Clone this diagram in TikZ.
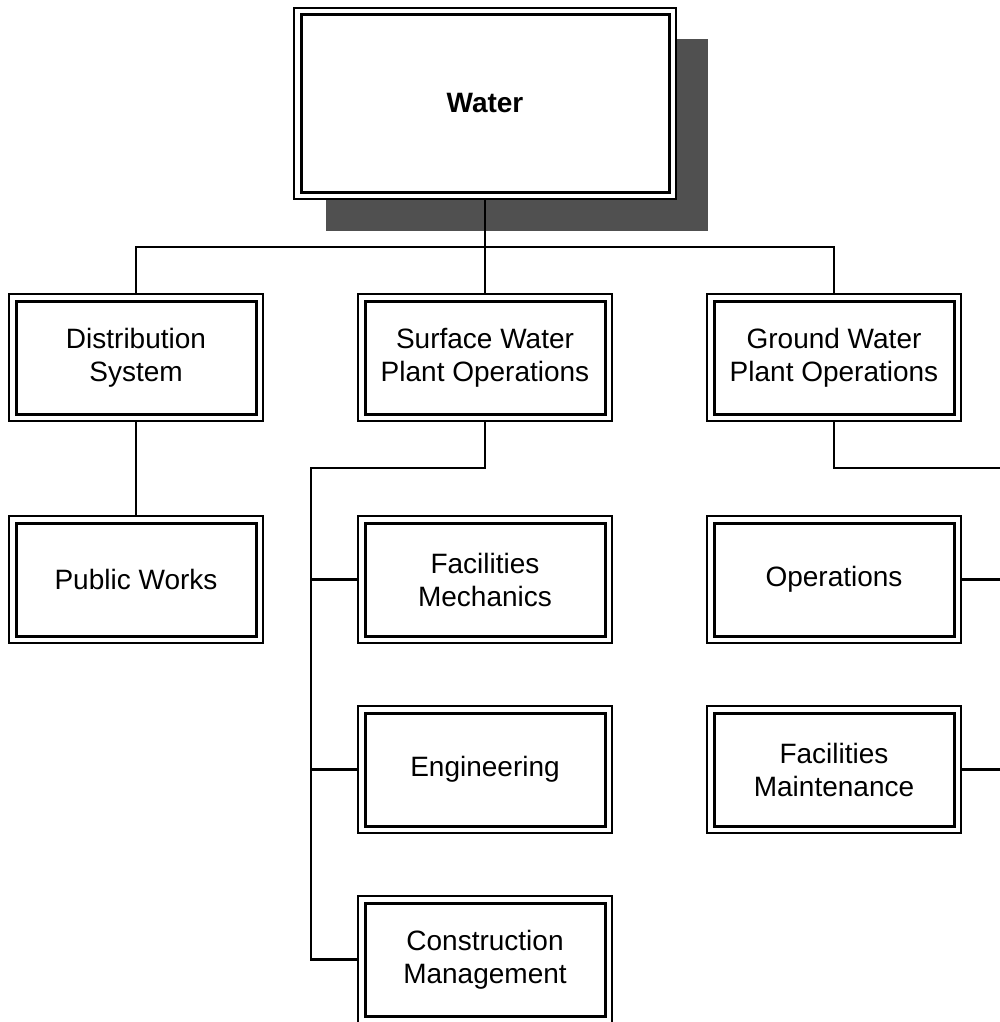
\documentclass[tikz,border=0pt]{standalone}
\usepackage{fontspec}
\setmainfont{Liberation Sans}
\definecolor{shadowgray}{HTML}{505050}
\tikzset{
  unit/.style={draw, line width=1pt, fill=white,
    minimum width=127pt, minimum height=63.5pt, inner sep=0pt, outer sep=0.5pt,
    align=center, font=\fontsize{14}{16.5}\selectfont,
    path picture={\draw[line width=1.5pt]
      ([shift={(3.5pt,-3.5pt)}]path picture bounding box.north west) rectangle
      ([shift={(-3.5pt,3.5pt)}]path picture bounding box.south east);}},
  head/.style={unit, minimum width=191pt, minimum height=95.5pt,
    font=\fontsize{14}{16.5}\selectfont\bfseries},
  link/.style={line width=1.2pt}
}
\begin{document}
\begin{tikzpicture}[x=0.5pt,y=-0.5pt]
\useasboundingbox (0,0) rectangle (1000,1022);
\fill[shadowgray] (326,39) rectangle (708,231);

\node[head] (water) at (485,103.5) {Water};
\node[unit] (dist) at (136,357.5) {Distribution\\System};
\node[unit] (surf) at (485,357.5) {Surface Water\\Plant Operations};
\node[unit] (ground) at (834,357.5) {Ground Water\\Plant Operations};
\node[unit] (works) at (136,579.5) {Public Works};
\node[unit] (mech) at (485,579.5) {Facilities\\Mechanics};
\node[unit] (eng) at (485,769.5) {Engineering};
\node[unit] (constr) at (485,959.5) {Construction\\Management};
\node[unit] (ops) at (834,579.5) {Operations};
\node[unit] (maint) at (834,769.5) {Facilities\\Maintenance};

\coordinate (topbus) at (485,247);
\coordinate (surfbus) at (311,468);
\coordinate (groundbus) at (1000,468);

\draw[link] (water.south)--(surf.north);
\draw[link] (dist.north) |- (topbus) -| (ground.north);
\draw[link] (dist.south)--(works.north);
\draw[link] (surf.south) |- (surfbus) |- (constr.west);
\draw[link] (surfbus |- mech.west)--(mech.west);
\draw[link] (surfbus |- eng.west)--(eng.west);
\draw[link] (ground.south) |- (groundbus);
\draw[link] (ops.east)--(ops.east -| groundbus);
\draw[link] (maint.east)--(maint.east -| groundbus);
\end{tikzpicture}
\end{document}
